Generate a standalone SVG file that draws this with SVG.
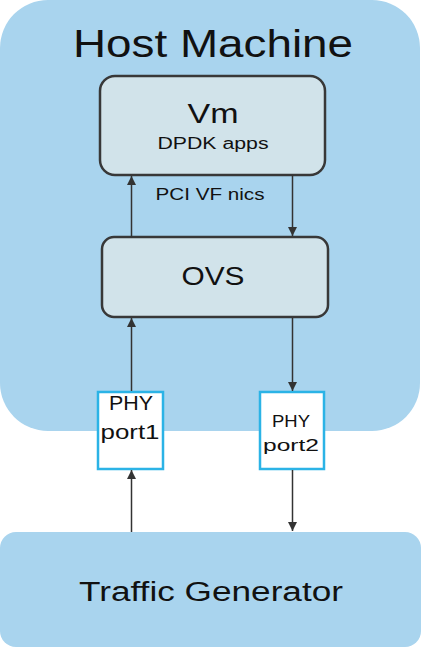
<svg xmlns="http://www.w3.org/2000/svg" width="422" height="648" viewBox="0 0 422 648">
<defs>
<marker id="ah" viewBox="0 0 10 10" refX="10" refY="5" markerWidth="9" markerHeight="9" markerUnits="userSpaceOnUse" orient="auto">
<path d="M0,0 L10,5 L0,10 Z" fill="#333"/>
</marker>
<style>
.bg{fill:#a9d4ee}
.inner{fill:#d1e3ea;stroke:#383838;stroke-width:2.5}
.phy{fill:#fff;stroke:#2bb3e6;stroke-width:2.5}
.t{font-family:"Liberation Sans",Arial,sans-serif;fill:#111;text-anchor:middle}
.c{stroke:#333;stroke-width:1.5;fill:none;marker-end:url(#ah)}
</style>
</defs>
<rect width="422" height="648" fill="#fff"/>
<g id="host">
<rect class="bg" x="0" y="0" width="420" height="431" rx="48" ry="48"/>
<text class="t" x="213" y="57" font-size="38" textLength="280" lengthAdjust="spacingAndGlyphs">Host Machine</text>
</g>
<g id="traffic">
<rect class="bg" x="0" y="532" width="421" height="115" rx="16" ry="16"/>
<text class="t" x="211" y="601" font-size="27" textLength="264" lengthAdjust="spacingAndGlyphs">Traffic Generator</text>
</g>
<g id="vm">
<rect class="inner" x="100" y="76" width="225" height="99" rx="15" ry="15"/>
<text class="t" x="213" y="123" font-size="27" textLength="51" lengthAdjust="spacingAndGlyphs">Vm</text>
<text class="t" x="213" y="149" font-size="16" textLength="111" lengthAdjust="spacingAndGlyphs">DPDK apps</text>
</g>
<g id="ovs">
<rect class="inner" x="102" y="237" width="226" height="80" rx="12" ry="12"/>
<text class="t" x="213" y="285" font-size="25" textLength="63" lengthAdjust="spacingAndGlyphs">OVS</text>
</g>
<g id="phy1">
<rect class="phy" x="98" y="392" width="65" height="77"/>
<text class="t" x="131" y="410" font-size="20" textLength="44" lengthAdjust="spacingAndGlyphs">PHY</text>
<text class="t" x="130" y="439" font-size="20" textLength="59" lengthAdjust="spacingAndGlyphs">port1</text>
</g>
<g id="phy2">
<rect class="phy" x="260" y="392" width="64" height="77"/>
<text class="t" x="291" y="427" font-size="17" textLength="38" lengthAdjust="spacingAndGlyphs">PHY</text>
<text class="t" x="291" y="451" font-size="17" textLength="56" lengthAdjust="spacingAndGlyphs">port2</text>
</g>
<g id="connectors">
<line class="c" x1="131.5" y1="237" x2="131.5" y2="176"/>
<line class="c" x1="292.5" y1="175" x2="292.5" y2="236"/>
<line class="c" x1="131.5" y1="391" x2="131.5" y2="318"/>
<line class="c" x1="292.5" y1="318" x2="292.5" y2="391"/>
<line class="c" x1="131.5" y1="532" x2="131.5" y2="470"/>
<line class="c" x1="292.5" y1="470" x2="292.5" y2="531"/>
<text class="t" x="210" y="200" font-size="16" textLength="109" lengthAdjust="spacingAndGlyphs">PCI VF nics</text>
</g>
</svg>
